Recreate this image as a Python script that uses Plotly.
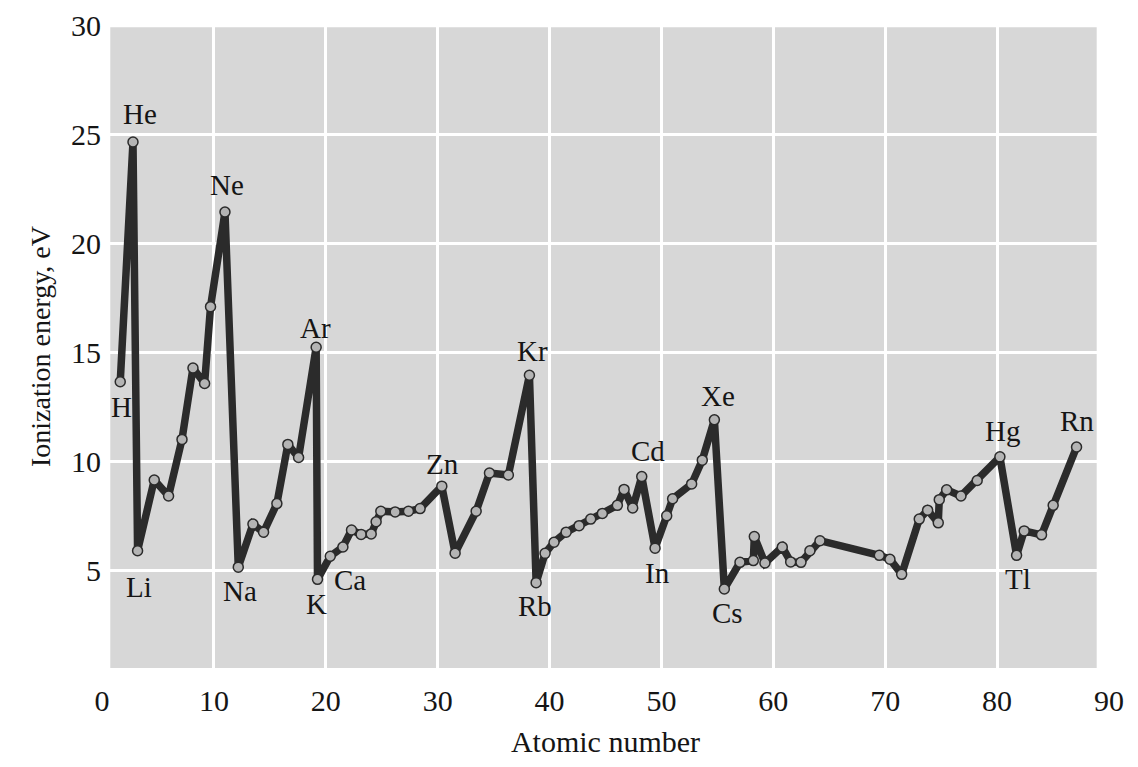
import plotly.graph_objects as go

# Positions of the plotted points (atomic number axis)
atomic_number = [1.63, 2.77, 3.18, 4.67, 5.95, 7.15, 8.13, 9.17, 9.70, 10.99,
                 12.18, 13.49, 14.44, 15.63, 16.61, 17.57, 19.14, 19.26, 20.40, 21.53,
                 22.30, 23.16, 24.06, 24.50, 24.92, 26.20, 27.39, 28.43, 30.37, 31.56,
                 33.44, 34.63, 36.32, 38.20, 38.80, 39.60, 40.40, 41.48, 42.64, 43.68,
                 44.72, 46.06, 46.66, 47.43, 48.24, 49.43, 50.47, 51.00, 52.70, 53.65,
                 54.73, 55.62, 57.02, 58.21, 58.30, 59.25, 60.80, 61.55, 62.47, 63.27,
                 64.17, 69.47, 70.42, 71.47, 73.04, 73.79, 74.74, 74.83, 75.49, 76.77,
                 78.22, 80.25, 81.74, 82.42, 83.97, 85.01, 87.10]

ionization_ev = [13.66, 24.64, 5.92, 9.16, 8.43, 11.02, 14.29, 13.58, 17.10, 21.43,
                 5.17, 7.14, 6.77, 8.08, 10.79, 10.19, 15.24, 4.61, 5.67, 6.09,
                 6.87, 6.67, 6.69, 7.25, 7.73, 7.70, 7.73, 7.85, 8.88, 5.81,
                 7.73, 9.48, 9.39, 13.96, 4.46, 5.80, 6.31, 6.77, 7.07, 7.37,
                 7.63, 8.00, 8.73, 7.88, 9.32, 6.04, 7.52, 8.30, 8.98, 10.07,
                 11.92, 4.17, 5.39, 5.47, 6.57, 5.36, 6.09, 5.41, 5.39, 5.92,
                 6.38, 5.71, 5.53, 4.84, 7.37, 7.78, 7.20, 8.26, 8.71, 8.43,
                 9.14, 10.22, 5.71, 6.83, 6.65, 8.00, 10.67]

# Element labels: symbol -> index of the point it names
element_labels = ["H", "He", "Li", "Ne", "Na", "Ar", "K", "Ca", "Zn", "Kr",
                  "Rb", "Cd", "In", "Xe", "Cs", "Hg", "Tl", "Rn"]
label_point = [0, 1, 2, 9, 10, 16, 17, 18, 28, 33,
               34, 44, 45, 50, 51, 71, 72, 76]

x_ticks = [0, 10, 20, 30, 40, 50, 60, 70, 80, 90]
y_ticks = [5, 10, 15, 20, 25, 30]

# label placement (pixel shifts from the point)
label_shift = {
    "H": (1, -25), "He": (7, 28), "Li": (1, -36), "Ne": (2, 27), "Na": (2, -24),
    "Ar": (-1, 19), "K": (-1, -25), "Ca": (20, -24), "Zn": (1, 22), "Kr": (3, 24),
    "Rb": (-1, -23), "Cd": (6, 26), "In": (2, -25), "Xe": (4, 24), "Cs": (3, -24),
    "Hg": (3, 26), "Tl": (1, -24), "Rn": (0, 26),
}

SERIF = "Liberation Serif, DejaVu Serif, serif"
INK = "#151515"

fig = go.Figure()
fig.add_trace(go.Scatter(
    x=atomic_number, y=ionization_ev, mode="lines+markers",
    line=dict(color="#2b2b2b", width=7.5),
    marker=dict(size=10, color="#b4b4b4", line=dict(color="#2b2b2b", width=1.5)),
    hoverinfo="x+y", showlegend=False,
))

for sym, idx in zip(element_labels, label_point):
    dx, dy = label_shift[sym]
    fig.add_annotation(x=atomic_number[idx], y=ionization_ev[idx], text=sym,
                       showarrow=False, xshift=dx, yshift=dy,
                       font=dict(family=SERIF, size=29, color=INK))

# gray panel (slightly inset from the x range as in the original)
fig.add_shape(type="rect", xref="x", yref="y", x0=0.74, x1=88.9, y0=0.55, y1=29.9,
              fillcolor="#d7d7d7", line=dict(width=0), layer="below")

fig.update_layout(
    width=1138, height=767,
    margin=dict(l=94, r=37, t=17, b=107),
    paper_bgcolor="white", plot_bgcolor="white",
    font=dict(family=SERIF, color=INK),
    xaxis=dict(range=[0, 90], tickvals=x_ticks, showgrid=True, gridcolor="white",
               gridwidth=2.5, zeroline=False, showline=False, ticks="",
               automargin=False, ticklabeloverflow="allow",
               tickfont=dict(family=SERIF, size=30, color=INK),
               ticklabelstandoff=12,
               title=dict(text="Atomic number", font=dict(family=SERIF, size=30, color=INK),
                          standoff=14)),
    yaxis=dict(range=[0.55, 30], tickvals=y_ticks, showgrid=True, gridcolor="white",
               gridwidth=2.5, zeroline=False, showline=False, ticks="",
               automargin=False, ticklabeloverflow="allow",
               tickfont=dict(family=SERIF, size=30, color=INK),
               ticklabelstandoff=0,
               title=dict(text="Ionization energy, eV",
                          font=dict(family=SERIF, size=28, color=INK), standoff=12)),
)

fig.write_html("out.html")
